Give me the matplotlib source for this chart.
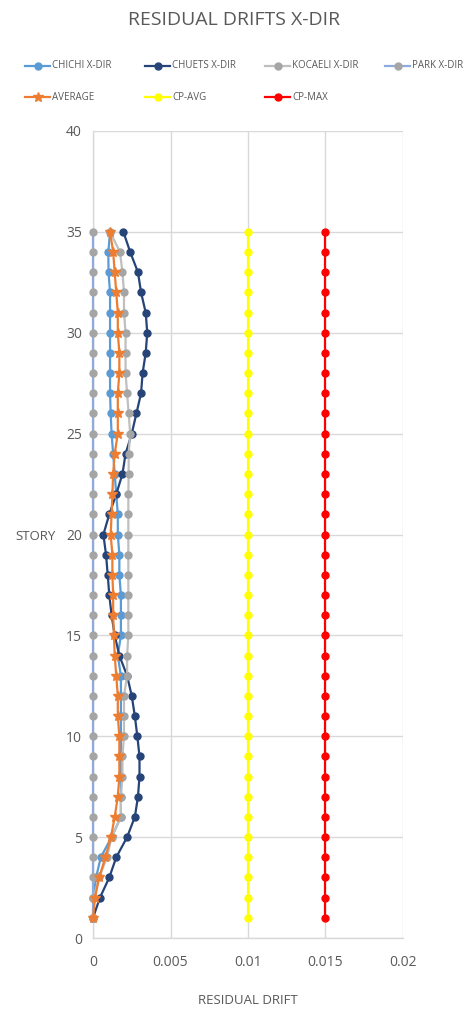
import matplotlib
matplotlib.use("Agg")
import matplotlib.pyplot as plt
from matplotlib.lines import Line2D
from matplotlib.ticker import FixedLocator, FixedFormatter

plt.rcParams['font.family'] = ['Open Sans', 'DejaVu Sans']

# Story levels 1..35 (bottom to top)
stories = list(range(1, 36))

chichi = [0.0000, 0.00003, 0.0002, 0.0005, 0.0012, 0.0018, 0.0018, 0.0018, 0.0018, 0.0018,
          0.0018, 0.0018, 0.0018, 0.0016, 0.0018, 0.0018, 0.0018, 0.0017, 0.0017, 0.0016,
          0.0016, 0.0015, 0.0014, 0.0013, 0.0012, 0.00114, 0.0011, 0.0011, 0.0011, 0.0011,
          0.0011, 0.0011, 0.0010, 0.00099, 0.0011]
chuets = [0.0000, 0.00045, 0.00105, 0.0015, 0.0022, 0.0027, 0.0029, 0.0030, 0.0030, 0.00286,
          0.0027, 0.0025, 0.0022, 0.0017, 0.0014, 0.0012, 0.00105, 0.00095, 0.00084, 0.00067,
          0.00105, 0.0015, 0.0019, 0.0021, 0.0025, 0.0028, 0.0031, 0.0032, 0.0034, 0.0035,
          0.0034, 0.0031, 0.0029, 0.0024, 0.00196]
kocaeli = [0.0000, 0.00003, 0.0004, 0.0009, 0.0012, 0.0018, 0.0018, 0.0019, 0.0019, 0.0020,
           0.0020, 0.0020, 0.0022, 0.0022, 0.00228, 0.00228, 0.00228, 0.00228, 0.00228, 0.00228,
           0.00228, 0.00228, 0.0023, 0.0023, 0.0024, 0.0023, 0.0022, 0.0021, 0.0021, 0.0021,
           0.0020, 0.0020, 0.0019, 0.00174, 0.0011]
park = [0.0] * 35
average = [0.0000, 0.00013, 0.0004, 0.0008, 0.00116, 0.0014, 0.0016, 0.0017, 0.0017, 0.0017,
           0.0016, 0.0016, 0.0015, 0.0014, 0.00135, 0.0013, 0.0013, 0.00125, 0.00125, 0.00114,
           0.0012, 0.00125, 0.0013, 0.0014, 0.0016, 0.0016, 0.0016, 0.0017, 0.0017, 0.0016,
           0.0016, 0.0015, 0.0014, 0.0013, 0.0011]
cp_avg = [0.01] * 35
cp_max = [0.015] * 35

series_names = ["CHICHI X-DIR", "CHUETS X-DIR", "KOCAELI X-DIR", "PARK X-DIR",
                "AVERAGE", "CP-AVG", "CP-MAX"]

x_ticks = [0, 0.005, 0.01, 0.015, 0.02]
x_tick_labels = ["0", "0.005", "0.01", "0.015", "0.02"]
y_ticks = [0, 5, 10, 15, 20, 25, 30, 35, 40]
y_tick_labels = [str(v) for v in y_ticks]

TEXT = "#595959"
GRID = "#d9d9d9"

styles = [
    dict(color="#5B9BD5", mfc="#5B9BD5", mec="#5B9BD5", marker="o"),
    dict(color="#264478", mfc="#264478", mec="#264478", marker="o"),
    dict(color="#BFBFBF", mfc="#A5A5A5", mec="#A5A5A5", marker="o"),
    dict(color="#8FAADC", mfc="#A5A5A5", mec="#A5A5A5", marker="o"),
    dict(color="#ED7D31", mfc="#ED7D31", mec="#ED7D31", marker="*"),
    dict(color="#FFFF00", mfc="#FFFF00", mec="#FFFF00", marker="o"),
    dict(color="#FF0000", mfc="#FF0000", mec="#FF0000", marker="o"),
]
data = [chichi, chuets, kocaeli, park, average, cp_avg, cp_max]

fig = plt.figure(figsize=(4.68, 10.11), dpi=100)
ax = fig.add_axes([93 / 468, 1 - 938 / 1011, 310 / 468, 807 / 1011])

for i, (vals, st) in enumerate(zip(data, styles)):
    ms = 7.5 if st["marker"] == "*" else 5
    ax.plot(vals, stories, lw=1.6, ms=ms, zorder=3 + i, clip_on=False, **st)

ax.set_xlim(0, 0.02)
ax.set_ylim(0, 40)
ax.xaxis.set_major_locator(FixedLocator(x_ticks))
ax.xaxis.set_major_formatter(FixedFormatter(x_tick_labels))
ax.yaxis.set_major_locator(FixedLocator(y_ticks))
ax.yaxis.set_major_formatter(FixedFormatter(y_tick_labels))
ax.grid(True, color=GRID, lw=1.0, zorder=0)
ax.set_axisbelow(True)
for side in ["top", "right"]:
    ax.spines[side].set_visible(False)
for side in ["left", "bottom"]:
    ax.spines[side].set_color(GRID)
    ax.spines[side].set_linewidth(1.0)
    ax.spines[side].set_zorder(1)
ax.tick_params(length=0, labelsize=10, colors=TEXT, pad=12)
ax.tick_params(axis="y", pad=8)

fig.text(0.5, 1 - 20 / 1011, "RESIDUAL DRIFTS X-DIR", ha="center", va="center",
         fontsize=14, color=TEXT)
fig.text(35 / 468, 1 - 536 / 1011, "STORY", ha="center", va="center",
         fontsize=9.5, color=TEXT)
fig.text(248 / 468, 1 - 1001 / 1011, "RESIDUAL DRIFT", ha="center", va="center",
         fontsize=9.5, color=TEXT)

# Legend laid out in two rows of equally spaced entries
legend_pos = [(25, 66), (145, 66), (265, 66), (385, 66),
              (25, 97), (145, 97), (265, 97)]
for (px, py), name, st in zip(legend_pos, series_names, styles):
    yy = 1 - py / 1011
    ms = 7 if st["marker"] == "*" else 5
    ln = Line2D([px / 468, (px + 25) / 468], [yy, yy], transform=fig.transFigure,
                lw=1.6, color=st["color"])
    mk = Line2D([(px + 12.5) / 468], [yy], transform=fig.transFigure, lw=0,
                marker=st["marker"], ms=ms, mfc=st["mfc"], mec=st["mec"])
    fig.add_artist(ln)
    fig.add_artist(mk)
    fig.text((px + 27) / 468, yy, name, ha="left", va="center", fontsize=7, color=TEXT)

fig.savefig("out.png", dpi=100)
